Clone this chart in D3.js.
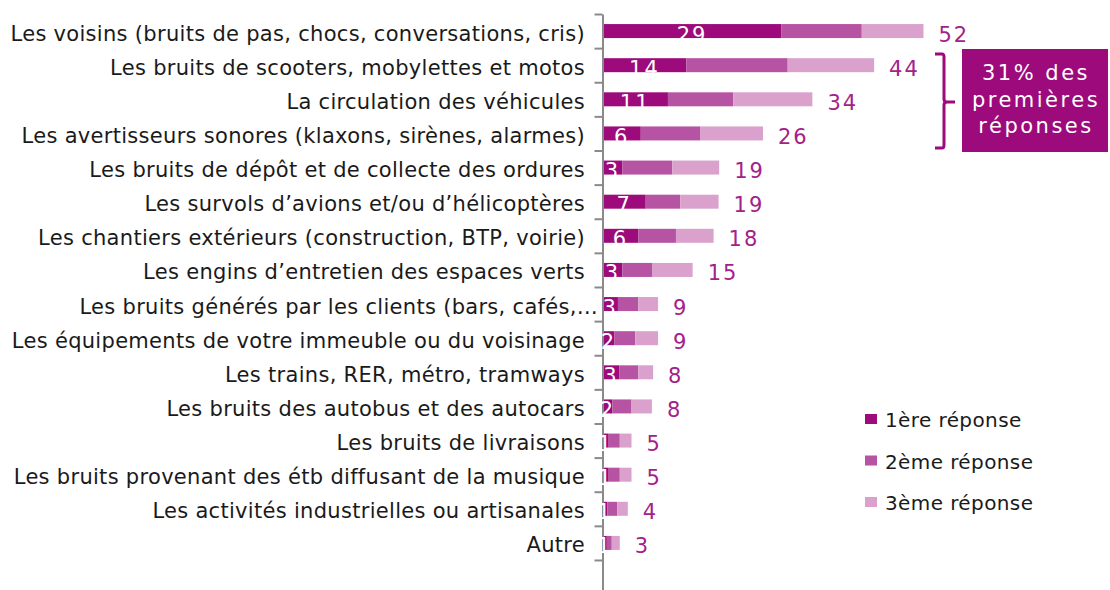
<!DOCTYPE html>
<html>
<head>
<meta charset="utf-8">
<script src="https://cdn.jsdelivr.net/npm/d3@7"></script>
<style>
  body { margin: 0; background: #fff; }
  svg { display: block; }
  text { font-family: "DejaVu Sans", Verdana, sans-serif; }
</style>
</head>
<body>
<svg id="chart" width="1110" height="590"></svg>
<script>
// categories, top to bottom
const categories = [
  'Les voisins (bruits de pas, chocs, conversations, cris)',
  'Les bruits de scooters, mobylettes et motos',
  'La circulation des véhicules',
  'Les avertisseurs sonores (klaxons, sirènes, alarmes)',
  'Les bruits de dépôt et de collecte des ordures',
  'Les survols d’avions et/ou d’hélicoptères',
  'Les chantiers extérieurs (construction, BTP, voirie)',
  'Les engins d’entretien des espaces verts',
  'Les bruits générés par les clients (bars, cafés,…',
  'Les équipements de votre immeuble ou du voisinage',
  'Les trains, RER, métro, tramways',
  'Les bruits des autobus et des autocars',
  'Les bruits de livraisons',
  'Les bruits provenant des étb diffusant de la musique',
  'Les activités industrielles ou artisanales',
  'Autre'
]

// segment widths
const firstAnswer  = [29, 13.6, 10.6, 6.2, 3.2, 7.0, 5.8, 3.2, 2.5, 1.9, 2.7, 1.6, 1.0, 1.0, 0.8, 0.7]
const secondAnswer = [13, 16.4, 10.6, 9.6, 8.1, 5.6, 6.1, 4.9, 3.3, 3.4, 3.1, 3.1, 1.8, 1.8, 1.6, 0.8]
const thirdAnswer  = [10, 14.0, 12.8, 10.2, 7.6, 6.2, 6.1, 6.5, 3.2, 3.7, 2.4, 3.3, 1.9, 1.9, 1.7, 1.3]

// printed labels
const firstLabels = [29, 14, 11, 6, 3, 7, 6, 3, 3, 2, 3, 2, 1, 1, 1, 1]
const totalLabels = [52, 44, 34, 26, 19, 19, 18, 15, 9, 9, 8, 8, 5, 5, 4, 3]

const seriesNames = ['1ère réponse', '2ème réponse', '3ème réponse']
const seriesColors = ['#9c0a7c', '#b653a3', '#d9a1cc']

const boxLines = ['31% des', 'premières', 'réponses']

const svg = d3.select('#chart')

const rows = categories.map((c, i) => ({
  cat: c,
  s0: firstAnswer[i],
  s1: secondAnswer[i],
  s2: thirdAnswer[i]
}))
const keys = ['s0', 's1', 's2']
const stacked = d3.stack().keys(keys)(rows)

const xScale = d3.scaleLinear()
  .domain([0, 52])
  .range([602.5, 923.5])

const yScale = d3.scaleBand()
  .domain(categories)
  .range([14, 560])
  .paddingInner(0.59)
  .paddingOuter(0.295)

const color = d3.scaleOrdinal().domain(keys).range(seriesColors)

// bars
svg.append('g')
  .selectAll('g')
  .data(stacked)
  .join('g')
  .attr('fill', d => color(d.key))
  .selectAll('rect')
  .data(d => d)
  .join('rect')
  .attr('x', d => xScale(d[0]))
  .attr('y', d => yScale(d.data.cat))
  .attr('width', d => xScale(d[1]) - xScale(d[0]))
  .attr('height', yScale.bandwidth())

// axis with ticks between the categories
const tickScale = d3.scaleLinear()
  .domain([0, 16.88])
  .range([14, 590])

svg.append('g')
  .attr('transform', `translate(${xScale(0)}, 0)`)
  .call(d3.axisLeft(tickScale).tickValues(d3.range(17)).tickFormat('').tickSize(8).tickSizeOuter(0))
  .call(g => g.selectAll('path, line').attr('stroke', '#8a8a8a').attr('stroke-width', 2))

// category labels
svg.append('g')
  .selectAll('text')
  .data(categories)
  .join('text')
  .attr('x', d => d.endsWith('…') ? 598 : 585)
  .attr('y', d => yScale(d) + yScale.bandwidth() / 2 + 9.5)
  .attr('text-anchor', 'end')
  .attr('font-size', 21)
  .attr('letter-spacing', 0.3)
  .attr('fill', '#1a1a1a')
  .text(d => d)

// totals
svg.append('g')
  .selectAll('text')
  .data(rows)
  .join('text')
  .attr('x', (d, i) => xScale(d.s0 + d.s1 + d.s2) + 15)
  .attr('y', d => yScale(d.cat) + yScale.bandwidth() / 2 + 10.5)
  .attr('font-size', 21)
  .attr('letter-spacing', 2)
  .attr('fill', '#a3218a')
  .text((d, i) => totalLabels[i])

// first answer values inside the bars
svg.append('g')
  .selectAll('text')
  .data(rows)
  .join('text')
  .attr('x', d => xScale(d.s0 / 2))
  .attr('y', d => yScale(d.cat) + yScale.bandwidth() / 2 + 10.5)
  .attr('text-anchor', 'middle')
  .attr('font-size', 21)
  .attr('letter-spacing', 2)
  .attr('fill', '#fff')
  .text((d, i) => firstLabels[i])

// legend
const legend = svg.append('g')
  .selectAll('g')
  .data(seriesNames)
  .join('g')
  .attr('transform', (d, i) => `translate(865, ${419 + i * 41.5})`)

legend.append('rect')
  .attr('x', 0)
  .attr('y', -5)
  .attr('width', 12)
  .attr('height', 10)
  .attr('fill', (d, i) => seriesColors[i])

legend.append('text')
  .attr('x', 20)
  .attr('y', 8)
  .attr('font-size', 20)
  .attr('letter-spacing', 0.4)
  .attr('fill', '#1a1a1a')
  .text(d => d)

// brace and highlight box
svg.append('path')
  .attr('d', 'M935,54 H942 Q944,54 944,57 V99 Q944,102 947,102 H955 M947,102 Q944,102 944,105 V145 Q944,148 942,148 H935')
  .attr('fill', 'none')
  .attr('stroke', '#9c0a7c')
  .attr('stroke-width', 3)

svg.append('rect')
  .attr('x', 962)
  .attr('y', 49)
  .attr('width', 146)
  .attr('height', 103)
  .attr('fill', '#9c0a7c')

svg.append('g')
  .selectAll('text')
  .data(boxLines)
  .join('text')
  .attr('x', 1036)
  .attr('y', (d, i) => 80 + i * 26.5)
  .attr('text-anchor', 'middle')
  .attr('font-size', 21)
  .attr('letter-spacing', 2.5)
  .attr('fill', '#fff')
  .text(d => d)
</script>
</body>
</html>
